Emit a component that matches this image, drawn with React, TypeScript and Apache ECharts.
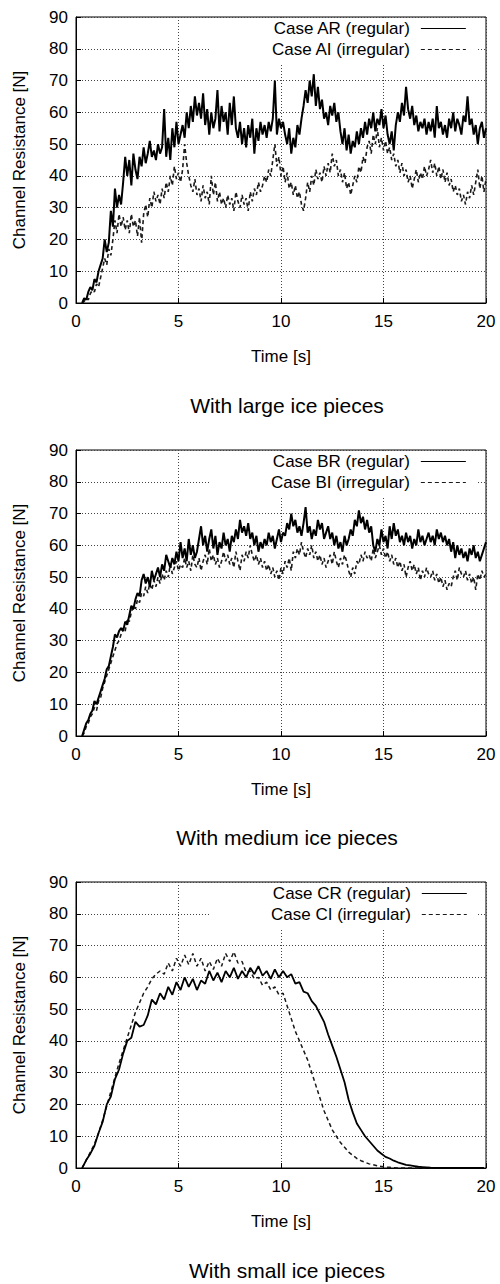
import React, { useEffect, useRef } from "react";
import * as echarts from "echarts";

// Sampling grid of the time series (seconds)
const T0 = 0.3;
const DT_FINE = 0.1;
const DT_COARSE = 0.2;

const titles = ["With large ice pieces", "With medium ice pieces", "With small ice pieces"];
const regularNames = ["Case AR (regular)", "Case BR (regular)", "Case CR (regular)"];
const irregularNames = ["Case AI (irregular)", "Case BI (irregular)", "Case CI (irregular)"];
const xAxisName = "Time [s]";
const yAxisName = "Channel Resistance [N]";

// Panel A (large ice pieces), t = 0.3 .. 20.0 step 0.1
const AR = [
  0, 1.5, 1, 3.5, 5, 4, 7.5, 6.5, 10, 12,
  14, 20, 16, 19, 29, 24, 36, 30, 34, 31,
  38, 46, 40, 45, 37, 47, 42, 39, 46, 43,
  49, 44, 47, 51, 46, 48, 45, 50, 47, 49,
  61, 46, 52, 45, 55, 49, 57, 50, 53, 56,
  52, 60, 55, 62, 57, 65, 59, 63, 58, 66,
  56, 61, 53, 60, 55, 58, 67, 54, 62, 57,
  60, 53, 63, 56, 65, 55, 52, 57, 50, 55,
  49, 56, 52, 58, 47, 55, 51, 57, 53, 56,
  52, 57, 54, 58, 70, 53, 58, 55, 57, 53,
  50, 55, 47, 52, 49, 56, 53, 58, 62, 67,
  63, 70, 65, 72, 62, 68, 61, 64, 58, 60,
  56, 62, 59, 63, 57, 60, 54, 50, 55, 48,
  53, 47, 51, 49, 54, 50, 55, 52, 57, 53,
  58, 55, 60, 54, 58, 56, 61, 55, 59, 53,
  50, 54, 48, 56, 60, 57, 63, 59, 68, 61,
  58, 62, 56, 59, 54, 57, 55, 58, 53, 57,
  54, 58, 52, 62, 55, 57, 53, 56, 52, 58,
  55, 60, 54, 58, 56, 53, 59, 57, 65, 56,
  58, 53, 56, 50, 55, 57, 52, 55,
];
const AI = [
  0, 0.5, 1.5, 1, 3, 4, 3.5, 6, 5, 8,
  11, 14, 12, 17, 15, 20, 26, 22, 28, 24,
  27, 23, 26, 22, 28, 24, 26, 21, 27, 19,
  28, 31, 27, 33, 30, 35, 32, 34, 31, 36,
  33, 38, 35, 40, 37, 43, 39, 41, 38, 42,
  50, 44, 40, 37, 35, 39, 34, 36, 32, 37,
  33, 35, 31, 40, 34, 38, 32, 35, 31, 33,
  30, 34, 31, 33, 29, 35, 32, 30, 34, 31,
  33, 29, 35, 32, 36, 34, 38, 35, 37, 40,
  38, 42, 40, 45, 50, 43, 46, 40, 43, 38,
  41, 36, 38, 34, 37, 33, 35, 31, 29, 33,
  38, 35, 40, 37, 42, 39, 41, 38, 43, 40,
  44, 41, 47, 43, 45, 40, 42, 38, 41, 36,
  38, 34, 37, 40, 38, 43, 41, 46, 44, 49,
  51, 47, 53, 50, 55, 49, 52, 48, 51, 47,
  49, 45, 47, 43, 45, 41, 44, 40, 42, 38,
  40, 36, 39, 42, 38, 41, 39, 43, 40, 42,
  45, 41, 44, 40, 43, 39, 42, 38, 41, 37,
  39, 35, 37, 34, 36, 32, 34, 31, 35, 33,
  37, 34, 38, 42, 36, 40, 35, 39,
];

// Panel B (medium ice pieces), t = 0.3 .. 20.0 step 0.1
const BR = [
  0, 2, 4, 5, 7, 8, 11, 10, 12, 14,
  16, 18, 21, 22, 25, 28, 32, 31, 33, 34,
  33, 36, 35, 38, 41, 40, 43, 45, 44, 49,
  51, 48, 50, 47, 52, 49, 51, 53, 50, 54,
  52, 57, 55, 53, 56, 54, 58, 55, 61, 56,
  59, 55, 62, 57, 60, 56, 58, 62, 66, 60,
  63, 58, 62, 65, 59, 63, 57, 61, 59, 64,
  60, 62, 58, 63, 61, 65, 62, 68, 64, 66,
  63, 67, 62, 64, 60, 63, 58, 61, 59, 62,
  60, 64, 61, 63, 59, 62, 65, 61, 64, 63,
  67, 65, 70, 66, 68, 64, 66, 63, 67, 72,
  64, 66, 62, 65, 63, 68, 65, 67, 62, 64,
  66, 62, 64, 60, 63, 59, 61, 58, 63, 60,
  62, 65, 63, 68, 66, 71, 67, 69, 65, 68,
  64, 66, 60, 58, 62, 60, 65, 61, 63, 59,
  66, 62, 67, 63, 65, 61, 63, 60, 64, 61,
  63, 59, 62, 60, 65, 61, 63, 60, 62, 64,
  61, 63, 60, 65, 62, 64, 61, 63, 60, 62,
  58, 61, 56, 60, 57, 59, 56, 58, 55, 59,
  57, 60, 56, 58, 55, 57, 59, 61,
];
const BI = [
  0, 1, 3, 4, 6, 7, 9, 8, 11, 12,
  15, 17, 19, 21, 23, 25, 27, 29, 30, 32,
  34, 33, 37, 36, 39, 41, 40, 43, 42, 45,
  44, 47, 45, 48, 46, 49, 47, 50, 48, 51,
  49, 52, 50, 54, 51, 53, 55, 52, 54, 53,
  56, 53, 55, 52, 57, 54, 53, 56, 52, 55,
  57, 54, 59, 55, 57, 54, 56, 53, 55, 58,
  55, 57, 54, 56, 53, 58, 55, 52, 57, 55,
  58, 56, 60, 57, 55, 57, 54, 56, 53, 55,
  52, 54, 51, 53, 50, 52, 49, 53, 51, 55,
  53, 56, 52, 58, 56, 59, 57, 61, 58, 56,
  59, 57, 60, 56, 58, 55, 57, 54, 56, 53,
  55, 57, 54, 58, 55, 53, 56, 54, 57, 55,
  52, 50, 53, 51, 55, 54, 57, 55, 58, 56,
  57, 55, 59, 56, 58, 60, 57, 59, 56, 58,
  55, 57, 54, 56, 53, 55, 52, 54, 50, 53,
  55, 52, 54, 51, 53, 49, 52, 50, 53, 51,
  50, 52, 49, 51, 48, 50, 47, 49, 46, 48,
  47, 50, 52, 49, 53, 51, 50, 52, 49, 51,
  48, 50, 46, 51, 49, 52, 50, 51,
];

// Panel C (small ice pieces), t = 0.3 .. 19.9 step 0.2
const CR = [
  0, 2.5, 4.5, 7, 11, 14.5, 20, 22.5, 28, 31,
  36, 40, 41, 46, 44.5, 45, 48, 53, 51.5, 55,
  53, 57, 54.5, 58.5, 56, 60, 57, 59.5, 56, 59,
  58, 62, 59, 61.5, 58.5, 62, 60, 63, 59.5, 62,
  60, 63, 61, 63.5, 60.5, 62, 59.5, 62.5, 60, 62,
  60, 61, 58, 58.5, 55.5, 55, 52.5, 51, 48.5, 46,
  42, 38.5, 35, 31, 27, 21.5, 17.5, 14, 12, 10,
  8.5, 7, 5.5, 4.5, 3.5, 3, 2.3, 1.8, 1.4, 1,
  0.8, 0.6, 0.4, 0.3, 0.2, 0.1, 0.05, 0, 0, 0,
  0, 0, 0, 0, 0, 0, 0, 0, 0,
];
const CI = [
  0, 2.5, 5, 7.5, 11, 15, 19.5, 24, 28.5, 33,
  37, 41, 45, 49, 52, 55, 57, 59.5, 61, 62,
  61, 64.5, 62, 66, 63.5, 67, 64, 67.5, 63.5, 66,
  62, 65, 62.5, 66, 63.5, 67.5, 65, 68, 64.5, 65,
  61.5, 62, 59.5, 60, 57.5, 58.5, 56, 57, 54.5, 55,
  51, 47, 43, 40, 37, 34, 30, 26, 22, 18,
  15, 12, 10, 8, 6.5, 5, 4, 3, 2.3, 1.8,
  1.3, 1, 0.7, 0.5, 0.3, 0.2, 0.1, 0, 0, 0,
  0, 0, 0, 0, 0, 0, 0, 0, 0, 0,
  0, 0, 0, 0, 0, 0, 0, 0, 0,
];

const panels = [
  { reg: AR, irr: AI, dt: DT_FINE, wReg: 2, wIrr: 1.6 },
  { reg: BR, irr: BI, dt: DT_FINE, wReg: 2, wIrr: 1.6 },
  { reg: CR, irr: CI, dt: DT_COARSE, wReg: 1.8, wIrr: 1.5 },
];

const FONT = '"Liberation Sans", Arial, Helvetica, sans-serif';
const GRID_TOPS = [17, 450, 882];
const TITLE_Y = [405, 837, 1270];

function toPairs(vals: number[], dt: number) {
  return vals.map((v, i) => [Number((T0 + i * dt).toFixed(2)), v]);
}

export default function App() {
  const ref = useRef<HTMLDivElement>(null);

  useEffect(() => {
    if (!ref.current) return;
    const chart = echarts.init(ref.current, undefined, { renderer: "svg" });

    const grid = GRID_TOPS.map((top) => ({
      left: 76,
      width: 410,
      top,
      height: 286,
      show: true,
      borderColor: "#000",
      borderWidth: 1,
      backgroundColor: "transparent",
    }));

    const xAxis = GRID_TOPS.map((_, i) => ({
      type: "value",
      gridIndex: i,
      min: 0,
      max: 20,
      interval: 5,
      name: xAxisName,
      nameLocation: "middle",
      nameGap: 45,
      nameTextStyle: { fontSize: 17, color: "#000", fontFamily: FONT },
      axisLine: { show: true, onZero: false, lineStyle: { color: "#000", width: 1 } },
      axisTick: { show: true, inside: true, length: 5, lineStyle: { color: "#000" } },
      axisLabel: { fontSize: 17, color: "#000", margin: 10, fontFamily: FONT },
      splitLine: { show: true, lineStyle: { color: "#444", type: [1, 2], width: 1 } },
    }));

    const yAxis = GRID_TOPS.map((_, i) => ({
      type: "value",
      gridIndex: i,
      min: 0,
      max: 90,
      interval: 10,
      name: yAxisName,
      nameLocation: "middle",
      nameGap: 48,
      nameTextStyle: { fontSize: 17, color: "#000", fontFamily: FONT },
      axisLine: { show: true, onZero: false, lineStyle: { color: "#000", width: 1 } },
      axisTick: { show: true, inside: true, length: 5, lineStyle: { color: "#000" } },
      axisLabel: { fontSize: 17, color: "#000", margin: 8, fontFamily: FONT },
      splitLine: { show: true, lineStyle: { color: "#444", type: [1, 2], width: 1 } },
    }));

    const series: any[] = [];
    panels.forEach((p, i) => {
      series.push({
        type: "line",
        name: irregularNames[i],
        xAxisIndex: i,
        yAxisIndex: i,
        data: toPairs(p.irr, p.dt),
        symbol: "none",
        showSymbol: false,
        silent: true,
        itemStyle: { color: "#1a1a1a" },
        lineStyle: { color: "#1a1a1a", width: p.wIrr, type: [4, 3] },
      });
      series.push({
        type: "line",
        name: regularNames[i],
        xAxisIndex: i,
        yAxisIndex: i,
        data: toPairs(p.reg, p.dt),
        symbol: "none",
        showSymbol: false,
        silent: true,
        itemStyle: { color: "#000" },
        lineStyle: { color: "#000", width: p.wReg },
      });
    });

    const legend = GRID_TOPS.map((top, i) => ({
      data: [regularNames[i], irregularNames[i]],
      orient: "vertical",
      align: "right",
      left: 211,
      top: top + 1,
      padding: [2, 10, 6, 60],
      itemGap: 4,
      itemWidth: 45,
      itemHeight: 14,
      backgroundColor: "#fff",
      selectedMode: false,
      z: 10,
      itemStyle: { opacity: 0 },
      lineStyle: { width: 1 },
      textStyle: { fontSize: 17, color: "#000", fontFamily: FONT, padding: [0, 6, 0, 0] },
    }));

    const graphic = titles.map((t, i) => ({
      type: "text",
      x: 287,
      y: TITLE_Y[i],
      style: {
        text: t,
        fill: "#000",
        fontSize: 21,
        fontFamily: FONT,
        align: "center",
        verticalAlign: "middle",
      },
    }));

    chart.setOption({
      animation: false,
      backgroundColor: "#fff",
      grid,
      xAxis,
      yAxis,
      legend,
      series,
      graphic,
    });

    return () => chart.dispose();
  }, []);

  return (
    <div
      ref={ref}
      style={{ position: "absolute", left: 0, top: 0, width: 500, height: 1284 }}
    />
  );
}
